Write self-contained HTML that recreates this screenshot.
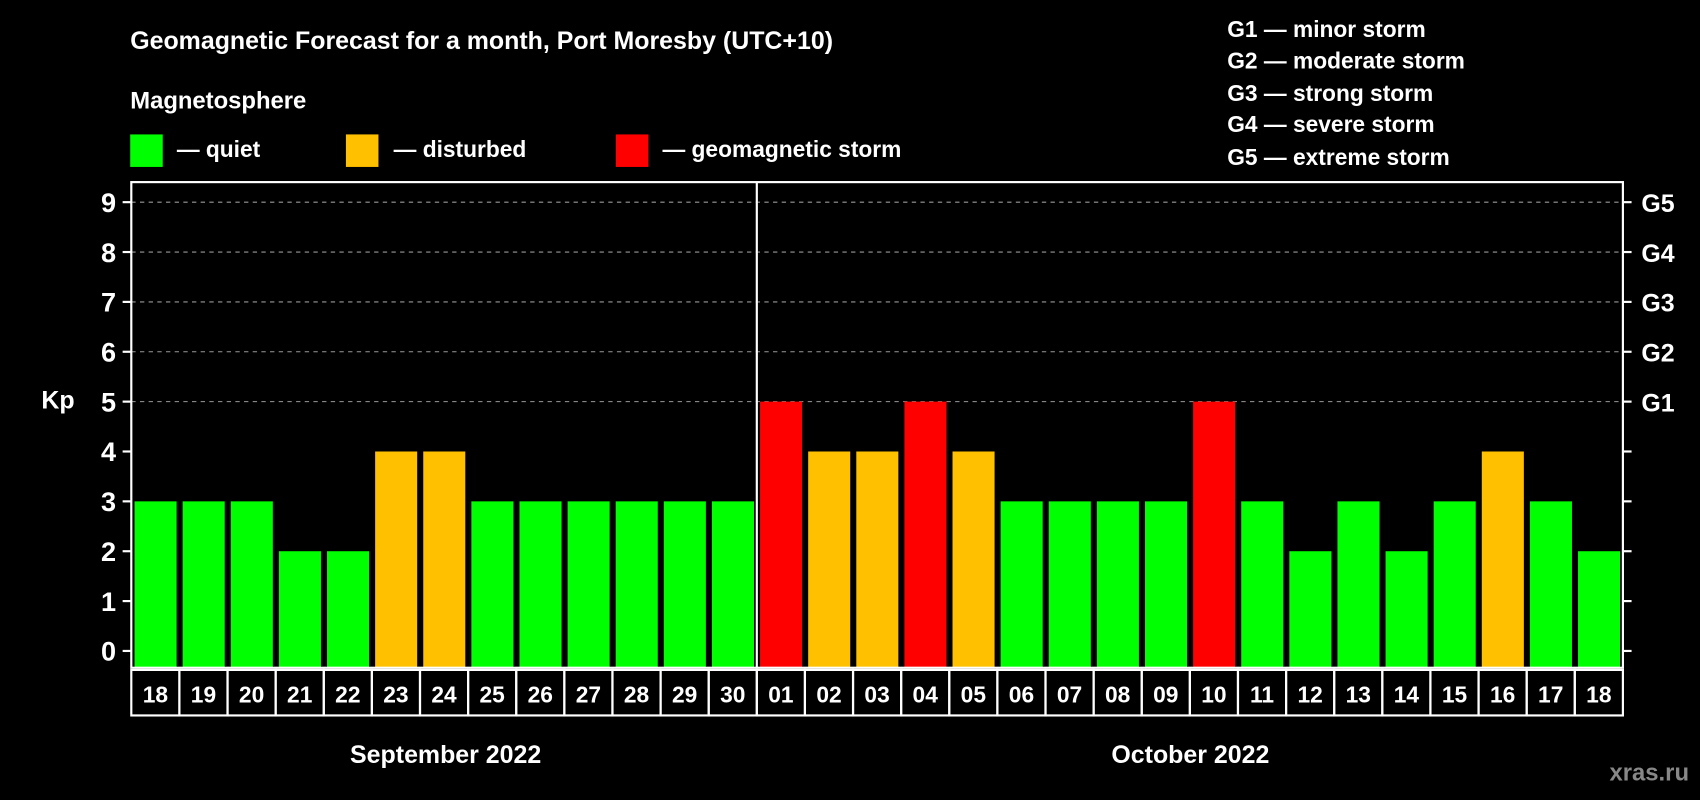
<!DOCTYPE html>
<html><head><meta charset="utf-8"><style>
html,body{margin:0;padding:0;background:#000;}
svg{display:block;font-family:"Liberation Sans",Arial,sans-serif;font-weight:bold;}
</style></head><body>
<svg id="chart" width="1700" height="800" viewBox="0 0 1568 738" xmlns="http://www.w3.org/2000/svg">
<rect width="1568" height="738" fill="#000"/>
<text x="120" y="45" fill="#fff" font-size="23">Geomagnetic Forecast for a month, Port Moresby (UTC+10)</text>
<text x="120" y="100" fill="#fff" font-size="22">Magnetosphere</text>
<g>
<rect x="120" y="124" width="30" height="30" fill="#00ff00"/>
<text x="163" y="145" fill="#fff" font-size="21">— quiet</text>
<rect x="319" y="124" width="30" height="30" fill="#ffc000"/>
<text x="363" y="145" fill="#fff" font-size="21">— disturbed</text>
<rect x="568" y="124" width="30" height="30" fill="#ff0000"/>
<text x="611" y="145" fill="#fff" font-size="21">— geomagnetic storm</text>
</g>
<g fill="#fff" font-size="21">
<text x="1132" y="34">G1 — minor storm</text>
<text x="1132" y="63">G2 — moderate storm</text>
<text x="1132" y="93">G3 — strong storm</text>
<text x="1132" y="122">G4 — severe storm</text>
<text x="1132" y="152">G5 — extreme storm</text>
</g>
<text x="38" y="377" fill="#fff" font-size="23">Kp</text>
<text x="411" y="704" fill="#fff" font-size="23" text-anchor="middle">September 2022</text>
<text x="1098" y="704" fill="#fff" font-size="23" text-anchor="middle">October 2022</text>
<text x="1558" y="720" fill="#888" font-size="22" text-anchor="end">xras.ru</text>
<g id="grid"></g><g id="bars"></g><g id="axes"></g>
</svg>
<script>
const days=["18","19","20","21","22","23","24","25","26","27","28","29","30","01","02","03","04","05","06","07","08","09","10","11","12","13","14","15","16","17","18"];
const kp=[3,3,3,2,2,4,4,3,3,3,3,3,3,5,4,4,5,4,3,3,3,3,5,3,2,3,2,3,4,3,2];
const yTicks=[0,1,2,3,4,5,6,7,8,9];
const gLabels=["","","","","","G1","G2","G3","G4","G5"];
const NS="http://www.w3.org/2000/svg";
const L=121,R=1497,T=168,B=616;
const slot=(R-L)/days.length;
const y=v=>600.5-46*v;
const x=i=>L+i*slot;
function mk(tag,attrs,parent,txt){const e=document.createElementNS(NS,tag);for(const k in attrs)e.setAttribute(k,attrs[k]);if(txt!==undefined)e.textContent=txt;document.getElementById(parent).appendChild(e);return e;}
const color=v=>v>=5?"#ff0000":v>=4?"#ffc000":"#00ff00";
yTicks.forEach(t=>{
 if(t>=5){const g=mk("line",{x1:L,x2:R,y1:y(t),y2:y(t),stroke:"#999","stroke-dasharray":"4,4","stroke-width":1},"grid");
 
 }
 const tl=mk("line",{x1:L-8,x2:L,y1:y(t),y2:y(t),stroke:"#fff","stroke-width":2},"axes");
 
 
 const tr=mk("line",{x1:R,x2:R+8,y1:y(t),y2:y(t),stroke:"#fff","stroke-width":2},"axes");
 
 
 const lb=mk("text",{x:L-14,y:y(t)+9,fill:"#fff","font-size":25,"text-anchor":"end"},"axes",String(t));
 
 
 if(gLabels[t]){const gl=mk("text",{x:R+17,y:y(t)+9,fill:"#fff","font-size":23},"axes",gLabels[t]);
 
 }
});
kp.forEach((v,i)=>{
 const r=mk("rect",{x:x(i)+3,width:slot-5.6,y:y(v),height:B-y(v),fill:color(v)},"bars");
 
 
 const c=mk("rect",{x:x(i),y:B+2,width:slot,height:42,fill:"none",stroke:"#fff","stroke-width":2},"axes");
 
 
 const d=mk("text",{x:x(i)+slot/2,y:B+32,fill:"#fff","font-size":21,"text-anchor":"middle"},"axes",days[i]);
 
 
});
const fr=mk("rect",{x:L,y:T,width:R-L,height:B-T,fill:"none",stroke:"#fff","stroke-width":2},"axes");


const ml=mk("line",{x1:x(13),x2:x(13),y1:T,y2:B,stroke:"#fff","stroke-width":2},"axes");


</script>
</body></html>
